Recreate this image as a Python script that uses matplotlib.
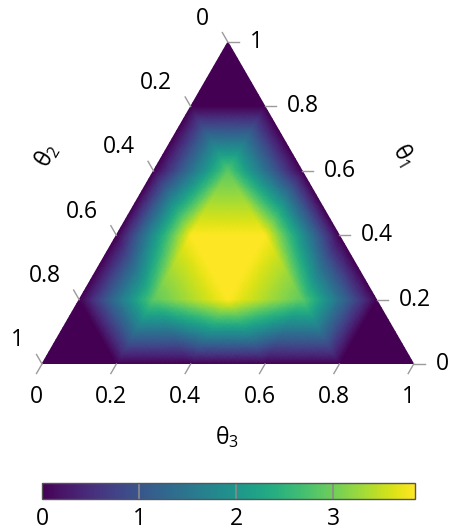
import numpy as np
import matplotlib
matplotlib.use("Agg")
import matplotlib.pyplot as plt
import matplotlib.tri as mtri

plt.rcParams['font.family'] = ['Open Sans', 'DejaVu Sans']
plt.rcParams['mathtext.fontset'] = 'custom'
plt.rcParams['mathtext.rm'] = 'Open Sans'
plt.rcParams['mathtext.it'] = 'Open Sans'

# ---- data: density values at the nodes of a 0.2-spaced simplex grid ----
theta1 = [0, 0, 0, 0, 0, 0,
          .2, .2, .2, .2, .2,
          .4, .4, .4, .4,
          .6, .6, .6,
          .8, .8,
          1]
theta3 = [0, .2, .4, .6, .8, 1,
          0, .2, .4, .6, .8,
          0, .2, .4, .6,
          0, .2, .4,
          0, .2,
          0]
density = [0, 0, 0, 0, 0, 0,
           0, 2.88, 3.84, 2.88, 0,
           0, 3.84, 3.84, 0,
           0, 2.88, 0,
           0, 0,
           0]
tick_values = [0, 0.2, 0.4, 0.6, 0.8, 1]
tick_labels = ['0', '0.2', '0.4', '0.6', '0.8', '1']
cbar_ticks = [0, 1, 2, 3]
vmax = 3.84

W, H = 451, 530
fig = plt.figure(figsize=(W / 100, H / 100), dpi=100)

# triangle pixel geometry
x0, y0 = 42, 364
side = 371.7
h = side * np.sqrt(3) / 2
ax = fig.add_axes([x0 / W, (H - y0) / H, side / W, h / H])
ax.set_xlim(0, 1)
ax.set_ylim(0, np.sqrt(3) / 2)
ax.axis('off')
px = 1 / side  # one pixel in data units
s3 = np.sqrt(3) / 2

t1 = np.array(theta1)
t3 = np.array(theta3)
X = t3 + t1 / 2
Y = t1 * s3
z = np.array(density)
tri = mtri.Triangulation(X, Y)
refiner = mtri.UniformTriRefiner(tri)
tri_r, z_r = refiner.refine_field(z, triinterpolator=mtri.LinearTriInterpolator(tri, z), subdiv=4)
mappable = ax.tripcolor(tri_r, z_r, shading='gouraud', cmap='viridis', vmin=0, vmax=vmax)

L = 11 * px
tick_kw = dict(color='#9a9a9a', lw=1.0, clip_on=False)
fs = 16.5
for t, lab in zip(tick_values, tick_labels):
    # bottom axis (theta3)
    bx, by = t, 0
    ex, ey = bx - 0.5 * L, by - s3 * L
    ax.plot([bx, ex], [by, ey], **tick_kw)
    ax.text(ex, ey - 23 * px, lab, ha='center', va='center', fontsize=fs)
    # right axis (theta1)
    rx, ry = 1 - t / 2, t * s3
    ax.plot([rx, rx + L], [ry, ry], **tick_kw)
    ax.text(rx + L + 11 * px, ry, lab, ha='left', va='center', fontsize=fs)
    # left axis (theta2)
    lx, ly = (1 - t) / 2, (1 - t) * s3
    ex, ey = lx - 0.5 * L, ly + s3 * L
    ax.plot([lx, ex], [ly, ey], **tick_kw)
    ax.text(ex - 13 * px, ey + 14 * px, lab, ha='right', va='center', fontsize=fs)

def P(xp, yp):
    return (xp - x0) * px, (y0 - yp) * px

ax.text(*P(227, 437), r'θ$_3$', ha='center', va='center', fontsize=fs)
ax.text(*P(403, 155), r'θ$_1$', ha='center', va='center', fontsize=fs, rotation=-60,
        rotation_mode='anchor')
ax.text(*P(47, 155), r'θ$_2$', ha='center', va='center', fontsize=fs, rotation=60,
        rotation_mode='anchor')

# colorbar
cax = fig.add_axes([42 / W, (H - 499) / H, 372.5 / W, 16 / H])
cb = fig.colorbar(mappable, cax=cax, orientation='horizontal', ticks=cbar_ticks)
cb.outline.set_edgecolor('#555555')
cb.outline.set_linewidth(1.0)
cax.tick_params(length=0, labelsize=fs, pad=6)
cax.set_xticklabels([str(v) for v in cbar_ticks])
for v in cbar_ticks[1:]:
    cax.axvline(v, color='#8a8a8a', lw=1.2)

fig.savefig('out.png', dpi=100)
